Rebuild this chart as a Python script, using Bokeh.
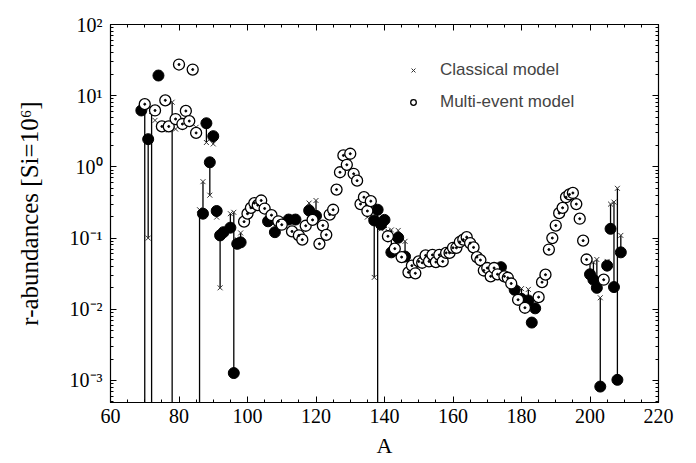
from bokeh.plotting import figure
from bokeh.models import (LogAxis, LinearAxis, LogTicker, SingleIntervalTicker,
                          CustomJSTickFormatter, Legend, LegendItem, Range1d)
from bokeh.embed import file_html
from bokeh.resources import INLINE

# ---------------- data ----------------
# solar r-abundances (filled circles); 1e-6 = below the plotted range
solar_A = [69, 70, 71, 72, 74, 78, 86, 87, 88, 89, 90, 91, 92, 93, 95, 96, 97, 98,
           106, 108, 112, 114, 118, 120, 137, 138, 139, 140, 142, 144, 146,
           174, 178, 180, 182, 183, 184, 200, 201, 202, 203, 205, 206, 207, 208, 209]
solar_v = [6.2, 1e-6, 2.45, 1e-6, 19.2, 1e-6, 1e-6, 0.22, 4.1, 1.16, 2.7, 0.24, 0.109, 0.121, 0.14, 1.27e-3, 0.083, 0.087,
           0.172, 0.121, 0.182, 0.182, 0.244, 0.205, 0.177, 0.25, 0.155, 0.18, 0.063, 0.101, 0.055,
           0.039, 0.0188, 0.014, 0.0133, 0.0065, 0.0103, 0.031, 0.026, 0.020, 8.2e-4, 0.041, 0.135, 0.0205, 1.02e-3, 0.063]

# classical model (x); 1e-6 = below the plotted range
class_A = [70, 71, 72, 73, 74, 77, 78, 79, 84, 85, 86, 87, 88, 89, 90, 91, 92, 93, 95, 96, 97, 98,
           104, 106, 112, 114, 118, 120, 125, 126, 135, 137, 138, 139, 140, 141, 142, 144, 146,
           180, 182, 186, 199, 200, 201, 202, 203, 205, 206, 207, 208, 209]
class_v = [7.0, 0.1, 6.0, 4.5, 21.0, 3.3, 8.1, 3.4, 24.0, 3.6, 0.25, 0.62, 2.2, 0.40, 2.1, 0.197, 0.020, 0.13, 0.22, 0.23, 0.095, 0.118,
           0.36, 0.19, 0.20, 0.20, 0.31, 0.337, 0.27, 0.52, 0.197, 0.028, 1e-6, 0.135, 0.15, 0.125, 0.13, 0.128, 0.09,
           0.0195, 0.019, 0.028, 0.05, 0.048, 0.046, 0.050, 0.0145, 0.047, 0.30, 0.32, 0.50, 0.109]

# multi-event model (open circles)
multi_A = [70, 73, 75, 76, 77, 79, 80, 81, 82, 83, 84, 85,
           99, 100, 101, 102, 103, 104, 105, 107, 109, 110, 113, 115, 116, 117, 119,
           121, 122, 123, 124, 125, 126, 127, 128, 129, 130, 131, 132, 133, 134, 135, 136,
           141, 143, 145, 147, 148, 149, 150, 151, 152, 153, 154, 155, 156, 157, 158, 159,
           160, 161, 162, 163, 164, 165, 166, 167, 168, 169, 170, 171, 172, 173, 175, 176, 177,
           179, 181, 185, 186, 187, 188, 189, 190, 191, 192, 193, 194, 195, 196, 197, 198, 199, 204]
multi_v = [7.6, 6.2, 3.7, 8.6, 3.7, 4.7, 27.4, 4.0, 6.1, 4.4, 23.3, 3.0,
           0.17, 0.22, 0.266, 0.31, 0.29, 0.337, 0.26, 0.21, 0.172, 0.154, 0.124, 0.109, 0.095, 0.149, 0.18,
           0.083, 0.15, 0.111, 0.214, 0.25, 0.48, 0.84, 1.45, 1.07, 1.53, 0.80, 0.64, 0.30, 0.375, 0.24, 0.33,
           0.106, 0.071, 0.054, 0.033, 0.041, 0.032, 0.047, 0.045, 0.057, 0.047, 0.058, 0.046, 0.058, 0.047, 0.062, 0.062,
           0.073, 0.073, 0.088, 0.095, 0.103, 0.085, 0.074, 0.054, 0.049, 0.035, 0.038, 0.029, 0.038, 0.031, 0.029, 0.0277, 0.023,
           0.0136, 0.0105, 0.0148, 0.024, 0.0306, 0.069, 0.10, 0.15, 0.224, 0.266, 0.375, 0.41, 0.43, 0.30, 0.187, 0.092, 0.050, 0.026]

x_label = "A"
y_label = "r-abundances [Si=10\u2076]"
legend_labels = ["Classical model", "Multi-event model"]

# ---------------- figure ----------------
SERIF = "Liberation Serif"
p = figure(width=696, height=463, y_axis_type="log", output_backend="svg",
           toolbar_location=None, x_range=Range1d(60, 220), y_range=Range1d(4.9e-4, 100),
           min_border_left=110, min_border_right=38, min_border_top=24, min_border_bottom=61)
p.grid.visible = False
p.outline_line_color = "black"
p.outline_line_width = 1.2
p.background_fill_color = "white"
p.border_fill_color = "white"

sup_js = """
const sup = {"-":"\u207b","0":"\u2070","1":"\u00b9","2":"\u00b2","3":"\u00b3","4":"\u2074",
             "5":"\u2075","6":"\u2076","7":"\u2077","8":"\u2078","9":"\u2079"};
const e = Math.round(Math.log10(tick));
return "10" + String(e).split("").map(c => sup[c]).join("");
"""

def style_axis(ax):
    ax.axis_line_color = "black"
    ax.major_tick_in = 6
    ax.major_tick_out = 0
    ax.minor_tick_in = 3
    ax.minor_tick_out = 0
    ax.major_tick_line_color = "black"
    ax.minor_tick_line_color = "black"
    ax.major_label_text_font = SERIF
    ax.major_label_text_font_size = "20px"
    ax.major_label_text_color = "black"
    ax.axis_label_text_font = SERIF
    ax.axis_label_text_font_style = "normal"
    ax.axis_label_text_color = "black"

xt = SingleIntervalTicker(interval=20, num_minor_ticks=4)
yt = LogTicker(num_minor_ticks=10)

xa = p.xaxis[0]
xa.ticker = xt
style_axis(xa)
xa.axis_label = x_label
xa.axis_label_text_font_size = "22px"
xa.major_label_standoff = 6
xa.axis_label_standoff = 7

ya = p.yaxis[0]
ya.ticker = yt
ya.formatter = CustomJSTickFormatter(code=sup_js)
style_axis(ya)
ya.axis_label = y_label
ya.axis_label_text_font_size = "25px"
ya.major_label_standoff = 8
ya.axis_label_standoff = 24

blank = CustomJSTickFormatter(code="return '';")
top = LinearAxis(ticker=xt, formatter=blank)
style_axis(top)
top.major_label_text_font_size = "1px"
p.add_layout(top, "above")
right = LogAxis(ticker=yt, formatter=blank)
style_axis(right)
right.major_label_text_font_size = "1px"
p.add_layout(right, "right")

# connecting lines between classical model and solar values
cd = dict(zip(class_A, class_v))
seg_A = [a for a in solar_A if a in cd]
seg_y0 = [solar_v[solar_A.index(a)] for a in seg_A]
seg_y1 = [cd[a] for a in seg_A]
p.segment(x0=seg_A, y0=seg_y0, x1=seg_A, y1=seg_y1, line_color="black", line_width=1.3)

r_cls = p.scatter(class_A, class_v, marker="x", size=7, line_color="#333333", line_width=1)
p.scatter(solar_A, solar_v, marker="circle", size=11, fill_color="black", line_color="black")
r_mul = p.scatter(multi_A, multi_v, marker="circle", size=11, fill_color="white",
                  line_color="black", line_width=1.3)
p.scatter(multi_A, multi_v, marker="circle", size=2, fill_color="black", line_color="black")

legend = Legend(items=[LegendItem(label=legend_labels[0], renderers=[r_cls]),
                       LegendItem(label=legend_labels[1], renderers=[r_mul])],
                location=(296, 290), orientation="vertical")
legend.border_line_color = None
legend.background_fill_alpha = 0
legend.label_text_font = "Liberation Sans"
legend.label_text_font_size = "17px"
legend.glyph_width = 14
legend.glyph_height = 16
legend.label_standoff = 20
legend.padding = 0
legend.spacing = 12
legend.margin = 0
p.add_layout(legend, "center")

open("out.html", "w").write(file_html(p, INLINE))
